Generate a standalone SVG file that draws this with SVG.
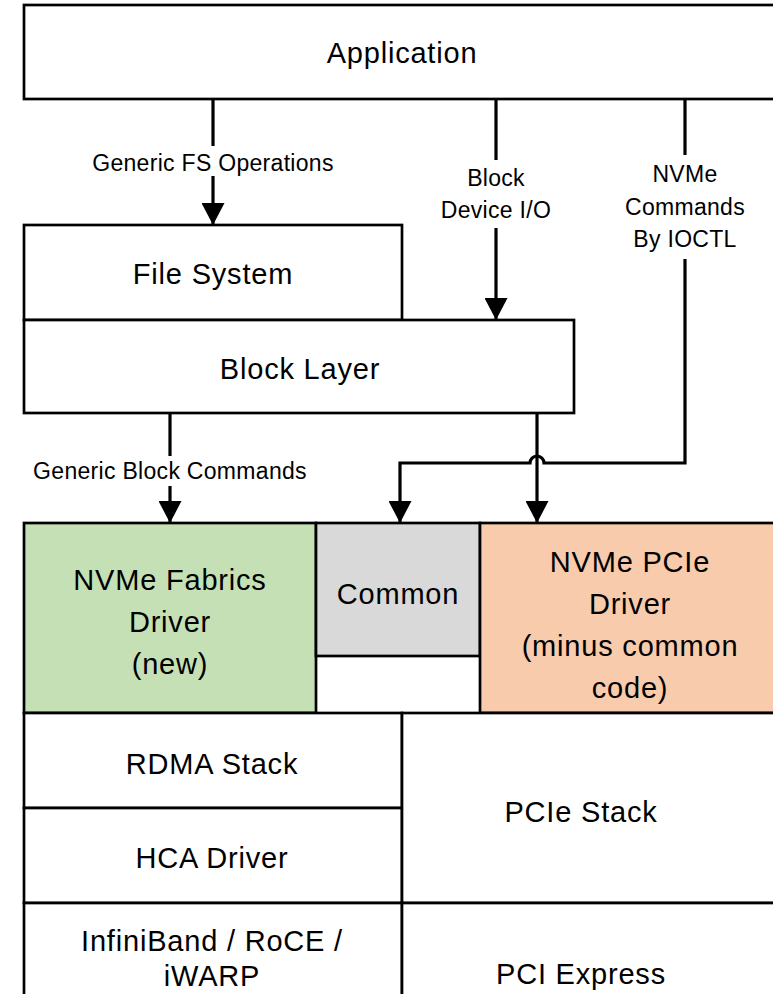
<svg xmlns="http://www.w3.org/2000/svg" width="773" height="994" viewBox="0 0 773 994">
<defs>
<style>
.box{stroke:#000;stroke-width:2.7;fill:#fff}
.t{font-family:"Liberation Sans",Arial,sans-serif;font-size:29px;fill:#000;text-anchor:middle;letter-spacing:0.8px}
.l{font-family:"Liberation Sans",Arial,sans-serif;font-size:23px;fill:#000;text-anchor:middle;letter-spacing:0.3px}
.c{stroke:#000;stroke-width:3.2;fill:none}
</style>
<marker id="ah" viewBox="0 0 22 23" refX="22" refY="11.5" markerWidth="22" markerHeight="23" markerUnits="userSpaceOnUse" orient="auto">
<path d="M0,0 L22,11.5 L0,23 Z" fill="#000"/>
</marker>
</defs>
<rect width="773" height="994" fill="#fff"/>
<g id="application">
<rect class="box" x="24" y="5" width="760" height="94"/>
<text class="t" x="402" y="63">Application</text>
</g>
<g id="filesystem">
<rect class="box" x="24" y="225" width="378" height="95"/>
<text class="t" x="213" y="284">File System</text>
</g>
<g id="blocklayer">
<rect class="box" x="24" y="320" width="550" height="93"/>
<text class="t" x="300" y="379">Block Layer</text>
</g>
<g id="fabrics">
<rect class="box" x="24" y="523" width="292" height="190" style="fill:#C5E0B4"/>
<text class="t" x="170" y="590">NVMe Fabrics</text>
<text class="t" x="170" y="632">Driver</text>
<text class="t" x="170" y="674">(new)</text>
</g>
<g id="common">
<rect class="box" x="316" y="523" width="164" height="133" style="fill:#D9D9D9"/>
<text class="t" x="398" y="604">Common</text>
</g>
<g id="pcie-driver">
<rect class="box" x="480" y="523" width="304" height="190" style="fill:#F8CBAD"/>
<text class="t" x="630" y="572">NVMe PCIe</text>
<text class="t" x="630" y="614">Driver</text>
<text class="t" x="630" y="656">(minus common</text>
<text class="t" x="630" y="698">code)</text>
</g>
<g id="rdma">
<rect class="box" x="24" y="713" width="378" height="95"/>
<text class="t" x="212" y="774">RDMA Stack</text>
</g>
<g id="hca">
<rect class="box" x="24" y="808" width="378" height="95"/>
<text class="t" x="212" y="868">HCA Driver</text>
</g>
<g id="pcie-stack">
<rect class="box" x="402" y="713" width="382" height="190"/>
<text class="t" x="581" y="822">PCIe Stack</text>
</g>
<g id="infiniband">
<rect class="box" x="24" y="903" width="378" height="100"/>
<text class="t" x="212" y="951">InfiniBand / RoCE /</text>
<text class="t" x="212" y="986">iWARP</text>
</g>
<g id="pci-express">
<rect class="box" x="402" y="903" width="382" height="100"/>
<text class="t" x="581" y="984">PCI Express</text>
</g>
<g id="connectors">
<path class="c" d="M213,99 V225" marker-end="url(#ah)"/>
<path class="c" d="M496,99 V320" marker-end="url(#ah)"/>
<path class="c" d="M685,99 V463 H544 A7,7 0 0 0 530,463 H400 V523" marker-end="url(#ah)"/>
<path class="c" d="M170,413 V523" marker-end="url(#ah)"/>
<path class="c" d="M537,413 V523" marker-end="url(#ah)"/>
<rect x="84" y="146" width="258" height="30" fill="#fff"/>
<text class="l" x="213" y="171">Generic FS Operations</text>
<rect x="434" y="160" width="124" height="68" fill="#fff"/>
<text class="l" x="496" y="186">Block</text>
<text class="l" x="496" y="218">Device I/O</text>
<rect x="622" y="155" width="126" height="104" fill="#fff"/>
<text class="l" x="685" y="182">NVMe</text>
<text class="l" x="685" y="215">Commands</text>
<text class="l" x="685" y="247">By IOCTL</text>
<rect x="20" y="456" width="302" height="30" fill="#fff"/>
<text class="l" x="170" y="479">Generic Block Commands</text>
</g>
</svg>
